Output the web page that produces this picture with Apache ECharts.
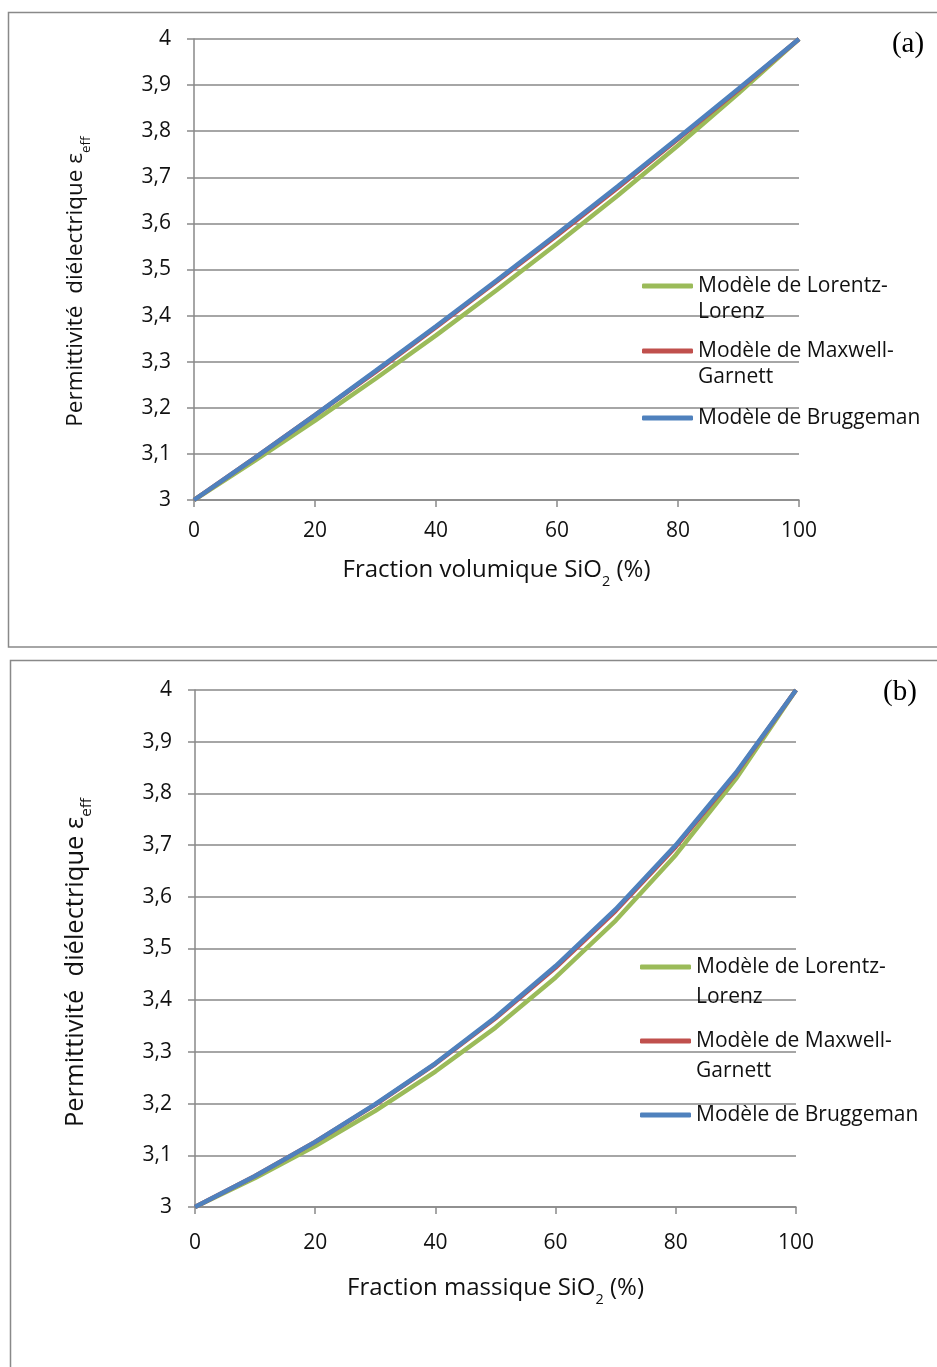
<!DOCTYPE html>
<html><head><meta charset="utf-8">
<script src="https://cdn.jsdelivr.net/npm/echarts@6/dist/echarts.min.js"></script>
<style>html,body{margin:0;padding:0;background:#fff}#c{width:937px;height:1367px}</style>
</head><body><div id="c"></div>
<script>
// ---- data ----
const volX = [0, 10, 20, 30, 40, 50, 60, 70, 80, 90, 100];
const volLorentz = [3, 3.085, 3.172, 3.263, 3.357, 3.455, 3.556, 3.660, 3.769, 3.882, 4];
const volMaxwell = [3, 3.091, 3.184, 3.278, 3.375, 3.474, 3.574, 3.677, 3.783, 3.890, 4];
const volBrugg  = [3, 3.091, 3.184, 3.280, 3.377, 3.476, 3.577, 3.680, 3.785, 3.892, 4];

const massX = [0, 10, 20, 30, 40, 50, 60, 70, 80, 90, 100];
const massLorentz = [3, 3.056, 3.118, 3.186, 3.262, 3.347, 3.444, 3.554, 3.681, 3.828, 4];
const massMaxwell = [3, 3.060, 3.126, 3.198, 3.277, 3.365, 3.463, 3.573, 3.697, 3.838, 4];
const massBrugg  = [3, 3.060, 3.126, 3.199, 3.278, 3.367, 3.466, 3.576, 3.700, 3.840, 4];

const seriesNames = ['Modèle de Lorentz-Lorenz', 'Modèle de Maxwell-Garnett', 'Modèle de Bruggeman'];
const legendLabels = ['\nModèle de Lorentz-\nLorenz', '\nModèle de Maxwell-\nGarnett', 'Modèle de Bruggeman'];
const colors = ['#9BBB59', '#C0504D', '#4F81BD'];
const xTitleA = 'Fraction volumique SiO';
const xTitleB = 'Fraction massique SiO';
const yTitle = 'Permittivité  diélectrique ε';

// ---- chart ----
const FONT = 'Open Sans';
const chart = echarts.init(document.getElementById('c'), null, {renderer: 'canvas'});
const pair = (xs, ys) => xs.map((x, i) => [x, ys[i]]);
const grey = '#898989';

function xAxis(gi, title, fs, gap, lm) {
  return {
    type: 'value', gridIndex: gi, min: 0, max: 100, interval: 20,
    axisLine: {show: true, lineStyle: {color: grey, width: 1.5}},
    axisTick: {show: true, length: 7, lineStyle: {color: grey, width: 1.5}},
    splitLine: {show: false},
    axisLabel: {fontFamily: FONT, fontSize: 21, color: '#111', margin: lm},
    name: '{t|' + title + '}{s|2}{t| (%)}', nameLocation: 'middle', nameGap: gap,
    nameTextStyle: {rich: {
      t: {fontFamily: FONT, fontSize: fs, color: '#111', lineHeight: fs + 6},
      s: {fontFamily: FONT, fontSize: fs * 0.6, color: '#111', verticalAlign: 'bottom', lineHeight: fs * 0.6, padding: [0, 0, -4, 0]}
    }}
  };
}
function yAxis(gi, fs, gap, shift) {
  return {
    type: 'value', gridIndex: gi, min: 3, max: 4, interval: 0.1,
    axisLine: {show: true, lineStyle: {color: grey, width: 1.5}},
    axisTick: {show: true, length: 7, lineStyle: {color: grey, width: 1.5}},
    splitLine: {show: true, lineStyle: {color: grey, width: 1.5}},
    axisLabel: {fontFamily: FONT, fontSize: 21, color: '#111', margin: 23,
      formatter: v => String(Math.round(v * 10) / 10).replace('.', ',')},
    name: '{t|' + yTitle + '}{s|eff}', nameLocation: 'middle', nameGap: gap, nameRotate: 90,
    nameTextStyle: {padding: [0, shift, 0, 0], rich: {
      t: {fontFamily: FONT, fontSize: fs, color: '#111', lineHeight: fs + 6},
      s: {fontFamily: FONT, fontSize: fs * 0.6, color: '#111', verticalAlign: 'bottom', lineHeight: fs * 0.6, padding: [0, 0, -3, 0]}
    }}
  };
}
function line(name, data, gi, ci) {
  return {
    name: name, type: 'line', xAxisIndex: gi, yAxisIndex: gi, data: data,
    showSymbol: false, symbol: 'none', smooth: false, animation: false,
    lineStyle: {color: colors[ci], width: 4.5}, itemStyle: {color: colors[ci]},
    z: 2 + ci
  };
}
function legend(i, left, top, fs, lh) {
  return {
    data: [seriesNames[i]], left: left, top: top, orient: 'vertical', padding: 0,
    icon: 'roundRect', itemWidth: 51, itemHeight: 5, selectedMode: false,
    formatter: () => legendLabels[i],
    textStyle: {fontFamily: FONT, fontSize: fs, color: '#111', lineHeight: lh}
  };
}

chart.setOption({
  backgroundColor: '#fff',
  animation: false,
  grid: [
    {left: 194, right: 138, top: 39, bottom: 867},
    {left: 195, right: 141, top: 690, bottom: 160}
  ],
  xAxis: [xAxis(0, xTitleA, 24, 55, 21), xAxis(1, xTitleB, 24, 66, 26)],
  yAxis: [yAxis(0, 22.5, 104, 24), yAxis(1, 25.5, 104, 28)],
  legend: [
    legend(0, 642, 247, 21, 26),
    legend(1, 642, 312, 21, 26),
    legend(2, 642, 405, 21, 26),
    legend(0, 640, 922, 21, 30),
    legend(1, 640, 996, 21, 30),
    legend(2, 640, 1100, 21, 30)
  ],
  series: [
    line(seriesNames[0], pair(volX, volLorentz), 0, 0),
    line(seriesNames[1], pair(volX, volMaxwell), 0, 1),
    line(seriesNames[2], pair(volX, volBrugg), 0, 2),
    line(seriesNames[0], pair(massX, massLorentz), 1, 0),
    line(seriesNames[1], pair(massX, massMaxwell), 1, 1),
    line(seriesNames[2], pair(massX, massBrugg), 1, 2)
  ],
  graphic: [
    {type: 'rect', shape: {x: 8.5, y: 12.5, width: 940, height: 634.5}, style: {fill: 'none', stroke: grey, lineWidth: 1.5}, z: -1, silent: true},
    {type: 'rect', shape: {x: 10.5, y: 660.5, width: 940, height: 800}, style: {fill: 'none', stroke: grey, lineWidth: 1.5}, z: -1, silent: true},
    {type: 'text', x: 908, y: 44, style: {text: '(a)', fontFamily: 'Liberation Serif', fontSize: 29, fill: '#000', align: 'center', verticalAlign: 'middle'}},
    {type: 'text', x: 900, y: 692, style: {text: '(b)', fontFamily: 'Liberation Serif', fontSize: 29, fill: '#000', align: 'center', verticalAlign: 'middle'}}
  ]
});
</script></body></html>
